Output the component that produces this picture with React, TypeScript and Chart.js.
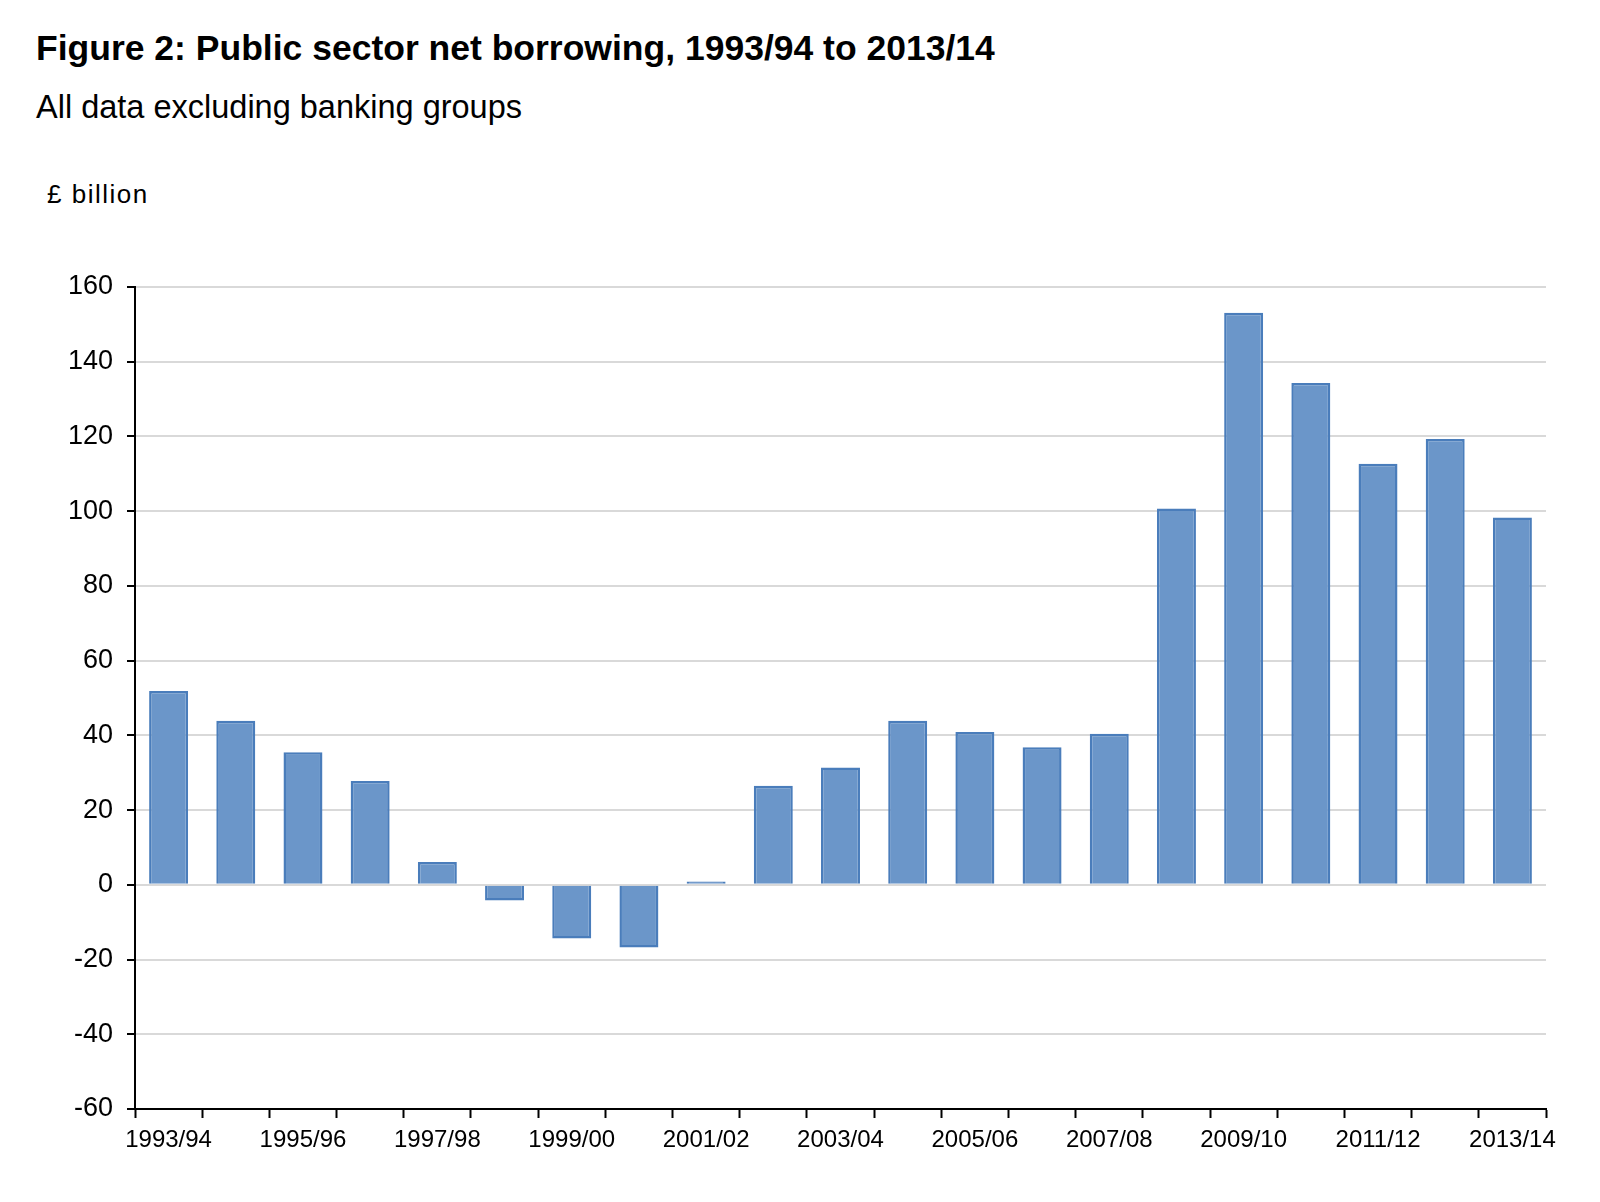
import { Chart, registerables } from 'chart.js'
import { useEffect, useRef } from 'react'

Chart.register(...registerables)

const YEARS = [
  '1993/94', '1994/95', '1995/96', '1996/97', '1997/98', '1998/99', '1999/00',
  '2000/01', '2001/02', '2002/03', '2003/04', '2004/05', '2005/06', '2006/07',
  '2007/08', '2008/09', '2009/10', '2010/11', '2011/12', '2012/13', '2013/14',
]

// £ billion, excluding banking groups
const BORROWING = [
  51.9, 43.9, 35.5, 27.8, 6.1, -4.2, -14.4, -16.8, 0.9, 26.5, 31.4,
  43.9, 40.9, 36.8, 40.4, 100.7, 153.1, 134.3, 112.7, 119.3, 98.3,
]

const Y_MIN = -60
const Y_MAX = 160
const Y_STEP = 20

const FONT = '"Liberation Sans", Arial, sans-serif'

export default function App() {
  const canvasRef = useRef<HTMLCanvasElement>(null)
  const chartRef = useRef<Chart | null>(null)

  useEffect(() => {
    if (!canvasRef.current) return
    if (chartRef.current) chartRef.current.destroy()

    chartRef.current = new Chart(canvasRef.current, {
      type: 'bar',
      data: {
        labels: YEARS,
        datasets: [
          {
            label: 'Public sector net borrowing',
            data: BORROWING,
            backgroundColor: '#6b96c9',
            borderColor: '#4a7dbb',
            borderWidth: 2.5,
            categoryPercentage: 1,
            barPercentage: 0.58,
          },
        ],
      },
      options: {
        responsive: false,
        animation: false,
        layout: { padding: { left: 0, top: 287, right: 54, bottom: 33 } },
        plugins: {
          legend: { display: false },
          tooltip: { enabled: false },
        },
        scales: {
          x: {
            afterFit: s => { s.height = 60 },
            grid: { display: true, drawOnChartArea: false, offset: true, tickLength: 9, tickColor: '#000', tickWidth: 2 },
            border: { color: '#000', width: 2 },
            ticks: {
              autoSkip: false,
              maxRotation: 0,
              color: '#000',
              font: { family: FONT, size: 24 },
              padding: 8,
              callback: (_v, i) => (i % 2 === 0 ? YEARS[i] : ''),
            },
          },
          y: {
            min: Y_MIN,
            max: Y_MAX,
            afterFit: s => { s.width = 135 },
            grid: { color: '#d9d9d9', lineWidth: 2, tickLength: 8, tickColor: '#000', tickWidth: 2 },
            border: { color: '#000', width: 2 },
            ticks: { stepSize: Y_STEP, color: '#000', font: { family: FONT, size: 27 }, padding: 14 },
          },
        },
      },
    })
    return () => { if (chartRef.current) chartRef.current.destroy() }
  }, [])

  return (
    <div style={{ position: 'absolute', left: 0, top: 0, width: 1600, height: 1202, background: '#fff', fontFamily: FONT, lineHeight: 1 }}>
      <div style={{ position: 'absolute', left: 36, top: 31, fontSize: 35.5, fontWeight: 'bold', whiteSpace: 'nowrap' }}>
        Figure 2: Public sector net borrowing, 1993/94 to 2013/14
      </div>
      <div style={{ position: 'absolute', left: 36, top: 91, fontSize: 32.5, whiteSpace: 'nowrap' }}>
        All data excluding banking groups
      </div>
      <div style={{ position: 'absolute', left: 47, top: 181, fontSize: 26, letterSpacing: 1.5, whiteSpace: 'nowrap' }}>
        £ billion
      </div>
      <canvas ref={canvasRef} width={1600} height={1202} style={{ position: 'absolute', left: 0, top: 0 }} />
    </div>
  )
}
